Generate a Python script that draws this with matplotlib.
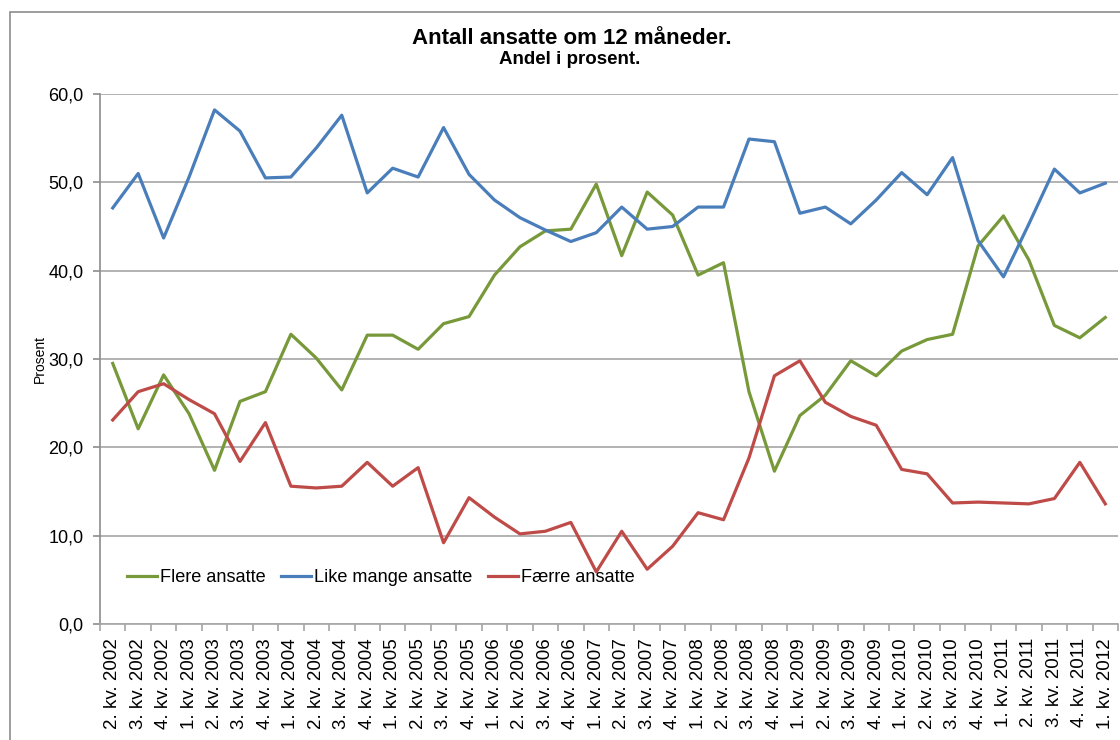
import matplotlib
matplotlib.use('Agg')
import matplotlib.pyplot as plt
import matplotlib.patches as patches
import numpy as np

plt.rcParams['font.family'] = ['Liberation Sans', 'DejaVu Sans']

# kvartal-etiketter 2. kv. 2002 - 1. kv. 2012
quarters = []
for year in range(2002, 2013):
    for q in range(1, 5):
        if (year == 2002 and q == 1) or (year == 2012 and q > 1):
            continue
        quarters.append(f'{q}. kv. {year}')

flere = [29.5, 22.1, 28.2, 23.8, 17.4, 25.2, 26.3, 32.8, 30.1, 26.5,
         32.7, 32.7, 31.1, 34.0, 34.8, 39.5, 42.7, 44.5, 44.7, 49.8,
         41.7, 48.9, 46.3, 39.5, 40.9, 26.3, 17.3, 23.6, 25.9, 29.8,
         28.1, 30.9, 32.2, 32.8, 42.8, 46.2, 41.2, 33.8, 32.4, 34.7]

like_mange = [47.1, 51.0, 43.7, 50.6, 58.2, 55.8, 50.5, 50.6, 53.9, 57.6,
              48.8, 51.6, 50.6, 56.2, 50.9, 48.0, 46.0, 44.6, 43.3, 44.3,
              47.2, 44.7, 45.0, 47.2, 47.2, 54.9, 54.6, 46.5, 47.2, 45.3,
              48.0, 51.1, 48.6, 52.8, 43.4, 39.3, 45.3, 51.5, 48.8, 49.9]

faerre = [23.1, 26.3, 27.2, 25.4, 23.8, 18.4, 22.8, 15.6, 15.4, 15.6,
          18.3, 15.6, 17.7, 9.2, 14.3, 12.1, 10.2, 10.5, 11.5, 5.9,
          10.5, 6.2, 8.8, 12.6, 11.8, 18.8, 28.1, 29.8, 25.1, 23.5,
          22.5, 17.5, 17.0, 13.7, 13.8, 13.7, 13.6, 14.2, 18.3, 13.6]

fig = plt.figure(figsize=(11.2, 7.4), dpi=100)
ax = fig.add_axes([100 / 1120, 1 - 624 / 740, 1018 / 1120, 530 / 740])

# ramme rundt diagrammet
fig.patches.append(patches.Rectangle((10 / 1120, -0.1), 1.2, 1.1 - 12 / 740,
                                     transform=fig.transFigure, fill=False,
                                     edgecolor='#8c8c8c', linewidth=1.2))

x = np.arange(len(quarters))
ax.plot(x, flere, color='#77993A', linewidth=2.3, label='Flere ansatte')
ax.plot(x, like_mange, color='#4A7EBB', linewidth=2.3, label='Like mange ansatte')
ax.plot(x, faerre, color='#BE4B48', linewidth=2.3, label='Færre ansatte')

ax.set_xlim(-0.5, len(quarters) - 0.5)
ax.set_ylim(0, 60)
ax.set_yticks(np.arange(0, 61, 10))
ax.set_yticklabels([f'{v:.1f}'.replace('.', ',') for v in np.arange(0, 61, 10)])
ax.set_xticks(x)
ax.set_xticklabels(quarters, rotation=90)
ax.set_xticks(np.arange(-0.5, len(quarters)), minor=True)

ax.grid(axis='y', color='#a6a6a6', linewidth=1.2)
ax.set_axisbelow(True)
for s in ['top', 'right']:
    ax.spines[s].set_visible(False)
ax.spines['left'].set_color('#8c8c8c')
ax.spines['bottom'].set_color('#a6a6a6')
ax.spines['left'].set_linewidth(1.2)
ax.spines['bottom'].set_linewidth(1.2)

ax.tick_params(axis='y', length=5, width=1.2, color='#8c8c8c', pad=7, labelsize=13)
ax.tick_params(axis='x', which='major', length=0, pad=10, labelsize=13.5)
ax.tick_params(axis='x', which='minor', length=5, width=1.2, color='#a6a6a6')

fig.text(40 / 1120, 1 - 359 / 740, 'Prosent', rotation=90, fontsize=10,
         ha='center', va='center')

fig.text(572 / 1120, 1 - 38 / 740, 'Antall ansatte om 12 måneder.',
         fontsize=16, fontweight='bold', ha='center', va='center')
fig.text(570 / 1120, 1 - 60 / 740, 'Andel i prosent.',
         fontsize=13.5, fontweight='bold', ha='center', va='center')

ax.legend(loc='center left', bbox_to_anchor=(127 / 1120, 1 - 578 / 740),
          bbox_transform=fig.transFigure, ncol=3, frameon=False,
          fontsize=13.1, handlelength=1.65, handletextpad=0.17,
          columnspacing=0.85, borderpad=0, borderaxespad=0)

fig.savefig('out.png', dpi=100)
